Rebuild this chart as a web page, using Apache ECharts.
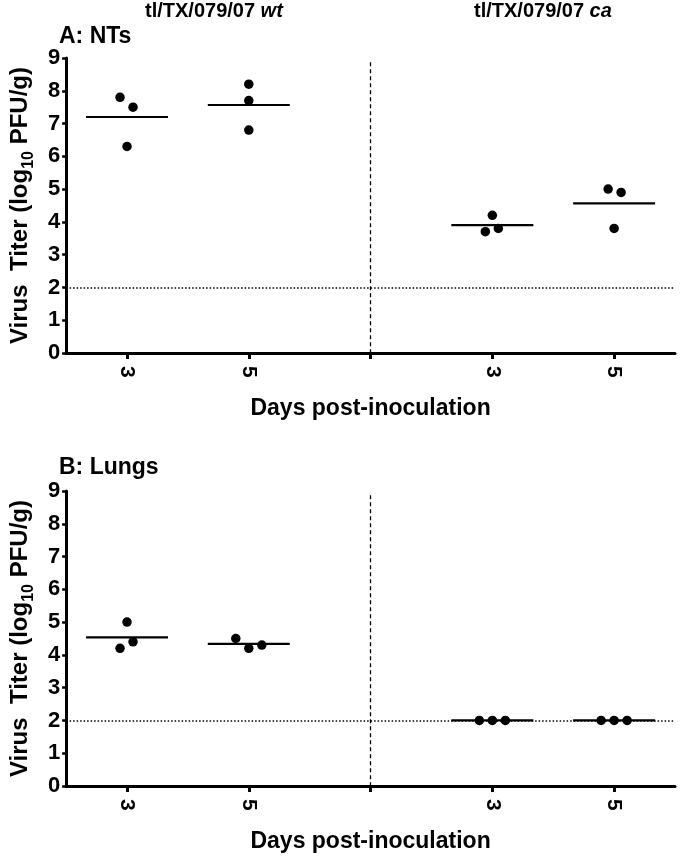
<!DOCTYPE html>
<html><head><meta charset="utf-8">
<script src="https://cdn.jsdelivr.net/npm/echarts@6/dist/echarts.min.js"></script>
<style>html,body{margin:0;padding:0;background:#fff}#c{width:680px;height:856px}</style>
</head><body><div id="c"></div>
<script>
// ---- data ----
const dayLabels = ['3', '5', '', '3', '5'];
const ntsWtDay3 = [7.8, 7.5, 6.3];
const ntsWtDay5 = [8.2, 7.7, 6.8];
const ntsCaDay3 = [4.2, 3.7, 3.8];
const ntsCaDay5 = [5.0, 4.9, 3.8];
const lungsWtDay3 = [5.0, 4.2, 4.4];
const lungsWtDay5 = [4.5, 4.2, 4.3];
const lungsCaDay3 = [2.0, 2.0, 2.0];
const lungsCaDay5 = [2.0, 2.0, 2.0];
const detectionLimit = 2;
const yMin = 0, yMax = 9, yStep = 1;

// ---- style ----
const FONT = 'Liberation Sans, Arial, sans-serif';
const BLACK = '#000';
const jitterNtsWt3 = [-7, 6, 0], jitterNtsWt5 = [0, 0, 0], jitterNtsCa3 = [0, -7, 6], jitterNtsCa5 = [-6, 7, 0];
const jitterLuWt3 = [0, -7, 6], jitterLuWt5 = [-13, 0, 13], jitterLuCa3 = [-13, 0, 13], jitterLuCa5 = [-13, 0, 13];

function mean(a) { return a.reduce((s, v) => s + v, 0) / a.length; }

function pointsData(groups) {
  const out = [];
  groups.forEach(g => {
    g.vals.forEach((v, i) => out.push({ value: [g.idx, v], symbolOffset: [g.jit[i], 0] }));
  });
  return out;
}

const ntsGroups = [
  { idx: 0, vals: ntsWtDay3, jit: jitterNtsWt3 },
  { idx: 1, vals: ntsWtDay5, jit: jitterNtsWt5 },
  { idx: 3, vals: ntsCaDay3, jit: jitterNtsCa3 },
  { idx: 4, vals: ntsCaDay5, jit: jitterNtsCa5 }
];
const lungGroups = [
  { idx: 0, vals: lungsWtDay3, jit: jitterLuWt3 },
  { idx: 1, vals: lungsWtDay5, jit: jitterLuWt5 },
  { idx: 3, vals: lungsCaDay3, jit: jitterLuCa3 },
  { idx: 4, vals: lungsCaDay5, jit: jitterLuCa5 }
];

const grids = [
  { left: 50, right: 5, top: 58, height: 295 },
  { left: 50, right: 5, top: 491, height: 295 }
];

function xAxis(gi) {
  return {
    type: 'category', gridIndex: gi, data: dayLabels, boundaryGap: true,
    axisLine: { show: true, lineStyle: { color: BLACK, width: 3 } },
    axisTick: { show: true, alignWithLabel: true, length: 6, lineStyle: { color: BLACK, width: 3 } },
    axisLabel: { rotate: -90, color: BLACK, fontFamily: FONT, fontWeight: 'bold', fontSize: 21, margin: 13 },
    name: 'Days post-inoculation', nameLocation: 'middle', nameGap: 44,
    nameTextStyle: { color: BLACK, fontFamily: FONT, fontWeight: 'bold', fontSize: 23 }
  };
}
function yAxis(gi) {
  return {
    type: 'value', gridIndex: gi, min: yMin, max: yMax, interval: yStep,
    axisLine: { show: true, lineStyle: { color: BLACK, width: 3 } },
    axisTick: { show: true, length: 4, lineStyle: { color: BLACK, width: 2.5 } },
    splitLine: { show: false },
    axisLabel: { color: BLACK, fontFamily: FONT, fontWeight: 'bold', fontSize: 22, margin: 6 },
    name: '{a|Virus  Titer (log}{s|10}{a| PFU/g)}', nameLocation: 'middle', nameGap: 28, nameRotate: 90,
    nameTextStyle: {
      color: BLACK,
      rich: {
        a: { fontFamily: FONT, fontWeight: 'bold', fontSize: 24, color: BLACK, lineHeight: 24, verticalAlign: 'bottom' },
        s: { fontFamily: FONT, fontWeight: 'bold', fontSize: 16, color: BLACK, lineHeight: 24, verticalAlign: 'bottom', padding: [0, 0, -5, 0] }
      }
    }
  };
}

function panelSeries(gi, groups) {
  return [
    {
      type: 'scatter', xAxisIndex: gi, yAxisIndex: gi, symbol: 'circle', symbolSize: 9.5,
      itemStyle: { color: BLACK, opacity: 1 }, data: pointsData(groups), z: 5,
      markLine: {
        silent: true, symbol: 'none', label: { show: false },
        data: [
          { yAxis: detectionLimit, lineStyle: { type: [1.5, 2], width: 1.5, color: BLACK } },
          [{ coord: [2, 8.87], lineStyle: { type: [4, 3], width: 1.3, color: BLACK } }, { coord: [2, yMin] }]
        ]
      }
    },
    {
      type: 'scatter', xAxisIndex: gi, yAxisIndex: gi, symbol: 'rect', symbolSize: [82, 2.2],
      itemStyle: { color: BLACK, opacity: 1 }, z: 4,
      data: groups.map(g => [g.idx, mean(g.vals)])
    }
  ];
}

const textStyleBase = { fill: BLACK, fontFamily: FONT, fontWeight: 'bold' };
const headRich = { n: { fontFamily: FONT, fontWeight: 'bold', fontSize: 20, fill: BLACK }, i: { fontFamily: FONT, fontWeight: 'bold', fontStyle: 'italic', fontSize: 20, fill: BLACK } };
const option = {
  animation: false,
  backgroundColor: '#fff',
  grid: grids,
  xAxis: [xAxis(0), xAxis(1)],
  yAxis: [yAxis(0), yAxis(1)],
  series: [...panelSeries(0, ntsGroups), ...panelSeries(1, lungGroups)],
  graphic: [
    { type: 'text', left: 145, top: 1, style: { text: '{n|tl/TX/079/07 }{i|wt}', rich: headRich } },
    { type: 'text', left: 474, top: 1, style: { text: '{n|tl/TX/079/07 }{i|ca}', rich: headRich } },
    { type: 'text', left: 59, top: 25, style: Object.assign({}, textStyleBase, { text: 'A: NTs', fontSize: 23 }) },
    { type: 'text', left: 59, top: 456, style: Object.assign({}, textStyleBase, { text: 'B: Lungs', fontSize: 23 }) }
  ]
};

const chart = echarts.init(document.getElementById('c'), null, { renderer: 'canvas' });
chart.setOption(option);
</script>
</body></html>
